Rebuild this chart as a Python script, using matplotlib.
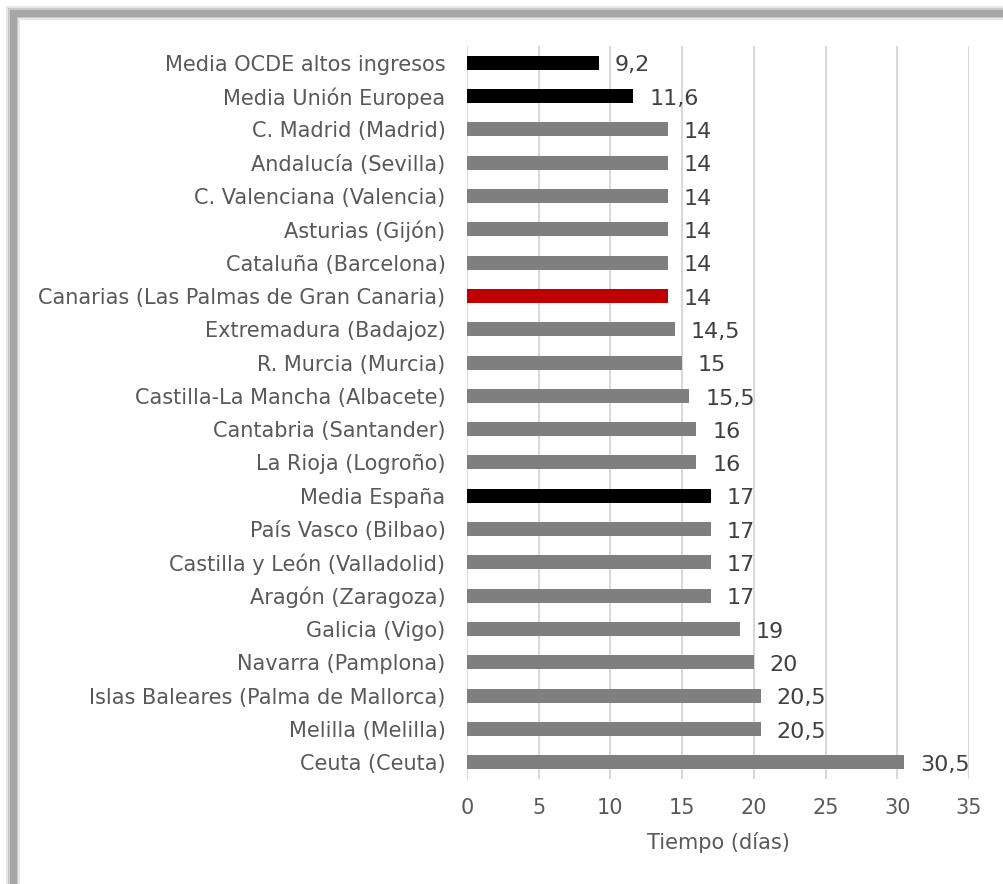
import matplotlib.pyplot as plt
from matplotlib.patches import Rectangle

regiones = [
    "Media OCDE altos ingresos", "Media Unión Europea", "C. Madrid (Madrid)",
    "Andalucía (Sevilla)", "C. Valenciana (Valencia)", "Asturias (Gijón)",
    "Cataluña (Barcelona)", "Canarias (Las Palmas de Gran Canaria)",
    "Extremadura (Badajoz)", "R. Murcia (Murcia)", "Castilla-La Mancha (Albacete)",
    "Cantabria (Santander)", "La Rioja (Logroño)", "Media España",
    "País Vasco (Bilbao)", "Castilla y León (Valladolid)", "Aragón (Zaragoza)",
    "Galicia (Vigo)", "Navarra (Pamplona)", "Islas Baleares (Palma de Mallorca)",
    "Melilla (Melilla)", "Ceuta (Ceuta)",
]
dias = [9.2, 11.6, 14, 14, 14, 14, 14, 14, 14.5, 15, 15.5, 16, 16, 17,
        17, 17, 17, 19, 20, 20.5, 20.5, 30.5]
medias = ["Media OCDE altos ingresos", "Media Unión Europea", "Media España"]
destacada = "Canarias (Las Palmas de Gran Canaria)"

colores = []
for r in regiones:
    if r in medias:
        colores.append("#000000")
    elif r == destacada:
        colores.append("#c00000")
    else:
        colores.append("#7f7f7f")

plt.rcParams['font.family'] = ['DejaVu Sans']

fig = plt.figure(figsize=(10.04, 8.84), dpi=100)
ax = fig.add_axes([467 / 1004, 1 - 779 / 884, 502 / 1004, (779 - 46) / 884])

pos = list(range(len(regiones)))
ax.barh(pos, dias, height=0.42, color=colores, zorder=3)
ax.set_ylim(len(regiones) - 0.5, -0.5)
ax.set_xlim(0, 35)
ax.set_xticks(range(0, 36, 5))
ax.set_yticks(pos)
ax.set_yticklabels(regiones)
ax.grid(axis="x", color="#d9d9d9", linewidth=1.5, zorder=0)
for s in ax.spines.values():
    s.set_visible(False)
ax.tick_params(axis="both", length=0, labelcolor="#595959", labelsize=15)
ax.tick_params(axis="y", pad=15.5)
ax.tick_params(axis="x", pad=14)
ax.set_xlabel("Tiempo (días)", fontsize=15, color="#595959", labelpad=10)

for y, v in zip(pos, dias):
    txt = f"{v:g}".replace(".", ",")
    ax.text(v + 1.1, y + 0.08, txt, va="center", ha="left", fontsize=16,
            color="#404040")

# marco gris con sombra
for w, c in [(14, "#e6e6e6"), (10, "#c8c8c8"), (7, "#a6a6a6")]:
    fig.patches.append(Rectangle((13 / 1004, -0.1), 1.2, 1 - 13 / 884 + 0.1,
                                 transform=fig.transFigure, fill=False,
                                 edgecolor=c, linewidth=w * 0.72, zorder=0))

fig.savefig("out.png", dpi=100)
